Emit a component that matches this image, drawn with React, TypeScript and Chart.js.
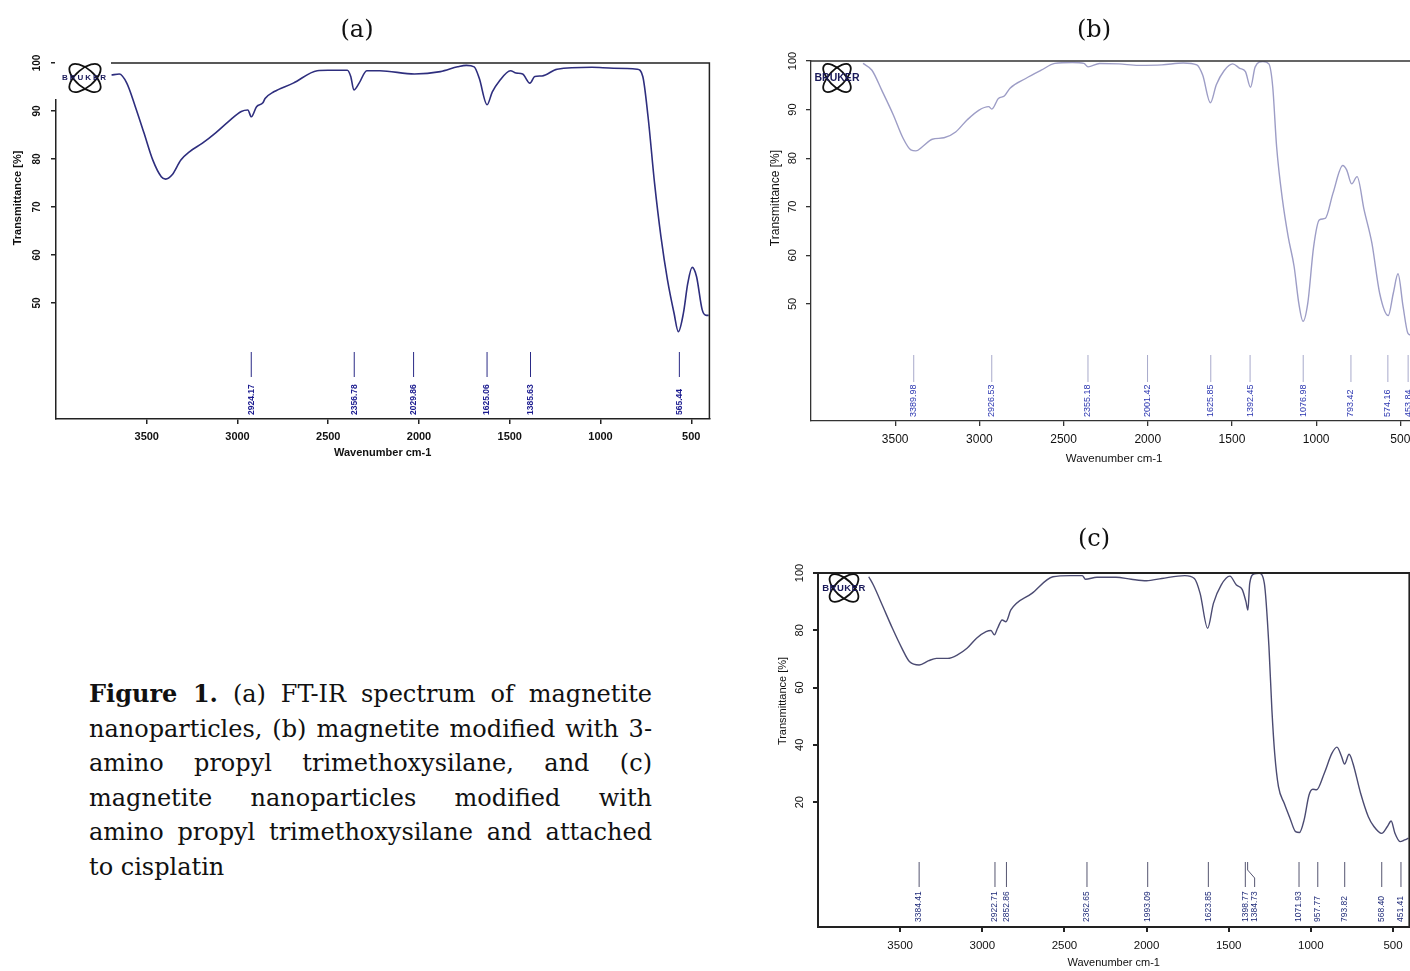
import React, { useEffect, useRef } from "react";
import { Chart, registerables } from "chart.js";

Chart.register(...registerables);

// ---------- shared axis data ----------
const xTicks = [3500, 3000, 2500, 2000, 1500, 1000, 500];
const yTicksAB = [50, 60, 70, 80, 90, 100];
const yTicksC = [20, 40, 60, 80, 100];

// ---------- panel (a): magnetite nanoparticles ----------
const waveA = [3694, 3651, 3610, 3563, 3515, 3467, 3420, 3396, 3360, 3312, 3265, 3193, 3122, 3050, 2979, 2943, 2924, 2895, 2860, 2848, 2800, 2693, 2561, 2502, 2395, 2376, 2359, 2330, 2288, 2216, 2025, 1882, 1787, 1739, 1696, 1668, 1625, 1596, 1560, 1496, 1465, 1429, 1389, 1362, 1322, 1239, 1048, 929, 798, 767, 738, 702, 667, 631, 595, 571, 543, 519, 495, 471, 440, 416, 404];
const transA = [97.5, 97.7, 95.8, 90.9, 85.4, 79.8, 76.3, 75.8, 76.7, 79.8, 81.5, 83.3, 85.4, 87.8, 89.9, 90.2, 88.8, 90.9, 91.7, 92.6, 94.0, 95.8, 98.4, 98.5, 98.5, 97.2, 94.4, 95.8, 98.4, 98.4, 97.7, 98.2, 99.2, 99.5, 99.2, 96.8, 91.3, 94.0, 96.1, 98.4, 97.9, 97.7, 95.8, 97.2, 97.3, 98.7, 99.1, 98.9, 98.7, 97.2, 88.8, 74.9, 63.8, 54.8, 47.9, 44.0, 47.9, 54.1, 57.4, 55.5, 48.6, 47.4, 47.4];
const peaksA = [2924.17, 2356.78, 2029.86, 1625.06, 1385.63, 565.44];

// ---------- panel (b): magnetite + APTMS ----------
const waveB = [3691, 3638, 3580, 3511, 3453, 3407, 3377, 3337, 3280, 3210, 3141, 3072, 3002, 2945, 2926, 2887, 2852, 2818, 2725, 2633, 2552, 2448, 2379, 2355, 2286, 2171, 2055, 1916, 1789, 1709, 1674, 1628, 1593, 1547, 1496, 1454, 1420, 1390, 1362, 1316, 1281, 1258, 1235, 1200, 1166, 1131, 1103, 1078, 1050, 1015, 981, 946, 900, 842, 819, 789, 757, 715, 669, 623, 572, 542, 514, 484, 456, 442];
const transB = [99.5, 98.1, 94.0, 88.9, 84.1, 81.7, 81.5, 82.4, 83.9, 84.2, 85.4, 87.9, 89.9, 90.6, 90.1, 92.3, 92.8, 94.4, 96.4, 98.1, 99.5, 99.7, 99.5, 98.8, 99.5, 99.4, 99.1, 99.2, 99.6, 99.2, 97.1, 91.4, 95.1, 98.0, 99.4, 98.5, 97.8, 94.6, 98.8, 99.9, 99.4, 94.7, 82.4, 71.4, 63.8, 57.7, 50.1, 46.4, 50.1, 61.8, 67.3, 67.6, 72.8, 78.5, 77.6, 74.7, 76.2, 69.3, 62.5, 52.2, 47.6, 52.2, 56.2, 49.5, 44.0, 43.6];
const peaksB = [3389.98, 2926.53, 2355.18, 2001.42, 1625.85, 1392.45, 1076.98, 793.42, 574.16, 453.84];

// ---------- panel (c): magnetite + APTMS + cisplatin ----------
const waveC = [3691, 3663, 3605, 3547, 3489, 3442, 3384, 3326, 3279, 3210, 3151, 3093, 3035, 2977, 2947, 2926, 2907, 2879, 2856, 2826, 2698, 2570, 2465, 2391, 2372, 2302, 2186, 2093, 2000, 1907, 1767, 1709, 1674, 1628, 1593, 1546, 1493, 1453, 1418, 1395, 1383, 1372, 1344, 1314, 1283, 1255, 1237, 1220, 1197, 1162, 1127, 1093, 1069, 1041, 1011, 988, 965, 918, 872, 841, 813, 795, 767, 744, 697, 650, 616, 569, 534, 511, 488, 457, 429, 406];
const transC = [98.7, 95.8, 88.3, 80.7, 73.7, 69.0, 67.9, 69.4, 70.2, 70.2, 71.4, 73.7, 77.2, 79.5, 79.9, 78.4, 80.7, 83.6, 83.0, 87.1, 92.9, 98.7, 99.1, 99.1, 97.8, 98.5, 98.5, 97.8, 97.3, 98.1, 99.1, 98.1, 92.9, 80.7, 89.4, 95.8, 98.9, 95.8, 94.3, 90.0, 87.1, 96.4, 99.7, 99.9, 96.4, 74.3, 52.2, 37.0, 25.4, 19.6, 14.4, 9.7, 9.4, 13.8, 22.5, 24.5, 24.3, 30.1, 37.0, 39.2, 35.9, 33.3, 36.7, 33.6, 23.1, 14.9, 11.5, 9.1, 11.5, 13.4, 9.1, 6.2, 6.8, 7.4];
const peaksC = [3384.41, 2922.71, 2852.86, 2362.65, 1993.09, 1623.85, 1398.77, 1384.73, 1071.93, 957.77, 793.82, 568.40, 451.41];

const captionLines = [
  "(a) FT-IR spectrum of magnetite",
  "nanoparticles, (b) magnetite modified with 3-",
  "amino propyl trimethoxysilane, and (c)",
  "magnetite nanoparticles modified with",
  "amino propyl trimethoxysilane and attached",
  "to cisplatin",
];

const SANS = '"Liberation Sans", Arial, sans-serif';
const SERIF = '"DejaVu Serif", serif';

type Spec = {
  waves: number[];
  trans: number[];
  peaks: number[];
  peakShift: Record<number, number>;
  yTicks: number[];
  yMin: number;
  yMax: number;
  padding: { left: number; top: number; right: number; bottom: number };
  yWidth: number;
  xHeight: number;
  frameColor: string;
  frameWidth: number;
  lineColor: string;
  lineWidth: number;
  xTickFont: { size: number; weight: string };
  yTickFont: { size: number; weight: string };
  xTickPad: number;
  yTickPad: number;
  xTitleFont: { size: number; weight: string };
  xTitlePad: number;
  markTop: number;
  markBottom: number;
  labelBottom: number;
  markColor: string;
  labelColor: string;
  labelFont: string;
  yTitleX: number;
  yTitleY: number;
  yTitleFont: string;
  logoX: number;
  logoY: number;
  logoCover: boolean;
  logoFont: string;
  logoSpacing: string;
  logoRot: number;
  logoRx: number;
  logoRy: number;
};

function makeDecor(s: Spec) {
  return {
    id: "spectrumDecor",
    afterDraw(chart: any) {
      const { ctx, chartArea: a, scales } = chart;
      const xs = scales.x;
      ctx.save();
      // top and right frame lines
      ctx.strokeStyle = s.frameColor;
      ctx.lineWidth = s.frameWidth;
      ctx.beginPath();
      ctx.moveTo(a.left, a.top);
      ctx.lineTo(a.right, a.top);
      ctx.lineTo(a.right, a.bottom);
      ctx.stroke();

      // peak markers
      ctx.strokeStyle = s.markColor;
      ctx.lineWidth = 1;
      ctx.fillStyle = s.labelColor;
      ctx.font = s.labelFont;
      s.peaks.forEach((p, i) => {
        const px = xs.getPixelForValue(p);
        const sh = s.peakShift[i] || 0;
        const y1 = a.bottom - s.markTop;
        const y2 = a.bottom - s.markBottom;
        ctx.beginPath();
        if (sh) {
          ctx.moveTo(px, y1);
          ctx.lineTo(px, y1 + 8);
          ctx.lineTo(px + sh, y1 + 16);
          ctx.lineTo(px + sh, y2);
        } else {
          ctx.moveTo(px, y1);
          ctx.lineTo(px, y2);
        }
        ctx.stroke();
        ctx.save();
        ctx.translate(px + sh, a.bottom - s.labelBottom);
        ctx.rotate(-Math.PI / 2);
        ctx.textAlign = "left";
        ctx.textBaseline = "middle";
        ctx.fillText(p.toFixed(2), 0, 0);
        ctx.restore();
      });

      // y axis title
      ctx.save();
      ctx.fillStyle = "#111";
      ctx.font = s.yTitleFont;
      ctx.translate(s.yTitleX, s.yTitleY);
      ctx.rotate(-Math.PI / 2);
      ctx.textAlign = "center";
      ctx.textBaseline = "middle";
      ctx.fillText("Transmittance [%]", 0, 0);
      ctx.restore();

      // Bruker logo
      const cx = s.logoX;
      const cy = s.logoY;
      if (s.logoCover) {
        ctx.fillStyle = "#fff";
        ctx.fillRect(a.left - 1, a.top - 2, 56, 38);
      }
      ctx.strokeStyle = "#111";
      ctx.lineWidth = 1.8;
      for (const ang of [s.logoRot, -s.logoRot]) {
        ctx.beginPath();
        ctx.ellipse(cx, cy, s.logoRx, s.logoRy, ang, 0, Math.PI * 2);
        ctx.stroke();
      }
      ctx.fillStyle = "#1a1a5a";
      ctx.font = s.logoFont;
      (ctx as any).letterSpacing = s.logoSpacing;
      ctx.textAlign = "center";
      ctx.textBaseline = "middle";
      ctx.fillText("BRUKER", cx, cy);
      (ctx as any).letterSpacing = "0px";
      ctx.restore();
    },
  };
}

function buildChart(canvas: HTMLCanvasElement, s: Spec) {
  const data = s.waves.map((w, i) => ({ x: w, y: s.trans[i] }));
  return new Chart(canvas, {
    type: "line",
    data: {
      datasets: [
        {
          data,
          borderColor: s.lineColor,
          borderWidth: s.lineWidth,
          pointRadius: 0,
          fill: false,
          cubicInterpolationMode: "monotone",
        } as any,
      ],
    },
    options: {
      responsive: false,
      animation: false,
      devicePixelRatio: 1,
      layout: { padding: s.padding },
      plugins: {
        legend: { display: false },
        tooltip: { enabled: false },
        title: { display: false },
      },
      scales: {
        x: {
          type: "linear",
          reverse: true,
          min: 400,
          max: 4000,
          afterBuildTicks: (sc: any) => {
            sc.ticks = xTicks.map((v) => ({ value: v }));
          },
          afterFit: (sc: any) => {
            sc.height = s.xHeight;
          },
          grid: {
            display: true,
            drawOnChartArea: false,
            drawTicks: true,
            tickLength: 5,
            color: s.frameColor,
            lineWidth: s.frameWidth,
          },
          border: { display: true, color: s.frameColor, width: s.frameWidth },
          ticks: {
            color: "#111",
            font: { family: SANS, size: s.xTickFont.size, weight: s.xTickFont.weight as any },
            padding: s.xTickPad,
            minRotation: 0,
            maxRotation: 0,
            autoSkip: false,
            callback: (v: any) => String(v),
          },
          title: {
            display: true,
            text: "Wavenumber cm-1",
            color: "#111",
            font: { family: SANS, size: s.xTitleFont.size, weight: s.xTitleFont.weight as any },
            padding: { top: 0, bottom: s.xTitlePad },
          },
        },
        y: {
          type: "linear",
          min: s.yMin,
          max: s.yMax,
          afterBuildTicks: (sc: any) => {
            sc.ticks = s.yTicks.map((v) => ({ value: v }));
          },
          afterFit: (sc: any) => {
            sc.width = s.yWidth;
          },
          grid: {
            display: true,
            drawOnChartArea: false,
            drawTicks: true,
            tickLength: 5,
            color: s.frameColor,
            lineWidth: s.frameWidth,
          },
          border: { display: true, color: s.frameColor, width: s.frameWidth },
          ticks: {
            color: "#111",
            font: { family: SANS, size: s.yTickFont.size, weight: s.yTickFont.weight as any },
            padding: s.yTickPad,
            minRotation: 90,
            maxRotation: 90,
            crossAlign: "center",
            autoSkip: false,
            callback: (v: any) => String(v),
          },
        },
      },
    } as any,
    plugins: [makeDecor(s)],
  });
}

const specA: Spec = {
  waves: waveA, trans: transA, peaks: peaksA, peakShift: {},
  yTicks: yTicksAB, yMin: 25.8, yMax: 100,
  padding: { left: 0, top: 63, right: 10.6, bottom: 0 },
  yWidth: 56, xHeight: 51,
  frameColor: "#222", frameWidth: 1.5,
  lineColor: "#2e2e7e", lineWidth: 1.6,
  xTickFont: { size: 11, weight: "bold" }, yTickFont: { size: 10, weight: "bold" },
  xTickPad: 6.4, yTickPad: 5.2,
  xTitleFont: { size: 11, weight: "bold" }, xTitlePad: 10.4,
  markTop: 67, markBottom: 42, labelBottom: 4,
  markColor: "#2a2a86", labelColor: "#1b1b8f", labelFont: `bold 8.5px ${SANS}`,
  yTitleX: 18, yTitleY: 198, yTitleFont: `bold 11px ${SANS}`,
  logoX: 85, logoY: 78, logoCover: true,
  logoFont: `bold 8px ${SANS}`, logoSpacing: "2px", logoRot: 0.7, logoRx: 19, logoRy: 9,
};

const specB: Spec = {
  waves: waveB, trans: transB, peaks: peaksB, peakShift: {},
  yTicks: yTicksAB, yMin: 25.9, yMax: 100,
  padding: { left: 0, top: 61, right: 22.8, bottom: 0 },
  yWidth: 51, xHeight: 50,
  frameColor: "#333", frameWidth: 1.3,
  lineColor: "#9d9dc6", lineWidth: 1.4,
  xTickFont: { size: 12, weight: "normal" }, yTickFont: { size: 11, weight: "normal" },
  xTickPad: 6.8, yTickPad: 3.8,
  xTitleFont: { size: 11.5, weight: "normal" }, xTitlePad: 5.1,
  markTop: 66, markBottom: 39, labelBottom: 4,
  markColor: "#a8aacb", labelColor: "#2a35b0", labelFont: `9px ${SANS}`,
  yTitleX: 16, yTitleY: 198, yTitleFont: `12px ${SANS}`,
  logoX: 77, logoY: 78, logoCover: false,
  logoFont: `bold 10.5px ${SANS}`, logoSpacing: "0px", logoRot: 0.8, logoRx: 18, logoRy: 8,
};

const specC: Spec = {
  waves: waveC, trans: transC, peaks: peaksC, peakShift: { 7: 7 },
  yTicks: yTicksC, yMin: -23.6, yMax: 100,
  padding: { left: 0, top: 63, right: 10.6, bottom: 0 },
  yWidth: 58, xHeight: 44,
  frameColor: "#222", frameWidth: 2,
  lineColor: "#4b4b72", lineWidth: 1.4,
  xTickFont: { size: 11.5, weight: "normal" }, yTickFont: { size: 11, weight: "normal" },
  xTickPad: 7.1, yTickPad: 3.8,
  xTitleFont: { size: 11, weight: "normal" }, xTitlePad: 1.4,
  markTop: 65, markBottom: 40, labelBottom: 5,
  markColor: "#555570", labelColor: "#1e2a78", labelFont: `8.5px ${SANS}`,
  yTitleX: 23, yTitleY: 191, yTitleFont: `11px ${SANS}`,
  logoX: 84, logoY: 78, logoCover: false,
  logoFont: `bold 9.5px ${SANS}`, logoSpacing: "0.5px", logoRot: 0.75, logoRx: 18, logoRy: 8.5,
};

function PanelTitle({ text, cx, cy }: { text: string; cx: number; cy: number }) {
  return (
    <div
      style={{
        position: "absolute",
        left: cx - 50,
        top: cy - 14,
        width: 100,
        height: 28,
        lineHeight: "28px",
        textAlign: "center",
        fontFamily: SERIF,
        fontSize: 24,
        color: "#111",
      }}
    >
      {text}
    </div>
  );
}

export default function App() {
  const refA = useRef<HTMLCanvasElement>(null);
  const refB = useRef<HTMLCanvasElement>(null);
  const refC = useRef<HTMLCanvasElement>(null);

  useEffect(() => {
    const charts = [
      buildChart(refA.current!, specA),
      buildChart(refB.current!, specB),
      buildChart(refC.current!, specC),
    ];
    return () => charts.forEach((c) => c.destroy());
  }, []);

  return (
    <div
      style={{
        position: "absolute",
        left: 0,
        top: 0,
        width: 1410,
        height: 971,
        overflow: "hidden",
        background: "#fff",
      }}
    >
      <canvas ref={refA} width={720} height={470} style={{ position: "absolute", left: 0, top: 0, width: 720, height: 470 }} />
      <canvas ref={refB} width={680} height={471} style={{ position: "absolute", left: 760, top: 0, width: 680, height: 471 }} />
      <canvas ref={refC} width={660} height={461} style={{ position: "absolute", left: 760, top: 510, width: 660, height: 461 }} />
      <PanelTitle text="(a)" cx={357} cy={29} />
      <PanelTitle text="(b)" cx={1094} cy={29} />
      <PanelTitle text="(c)" cx={1094} cy={538} />
      <div
        style={{
          position: "absolute",
          left: 89,
          top: 677,
          width: 563,
          fontFamily: SERIF,
          fontSize: 24,
          lineHeight: "34.6px",
          color: "#111",
        }}
      >
        {captionLines.map((line, i) => {
          const last = i === captionLines.length - 1;
          return (
            <div
              key={i}
              style={{
                textAlign: last ? "left" : "justify",
                textAlignLast: last ? "left" : "justify",
                height: 34.6,
              } as any}
            >
              {i === 0 ? (
                <>
                  <b>Figure 1.</b> {line}
                </>
              ) : (
                line
              )}
            </div>
          );
        })}
      </div>
    </div>
  );
}
